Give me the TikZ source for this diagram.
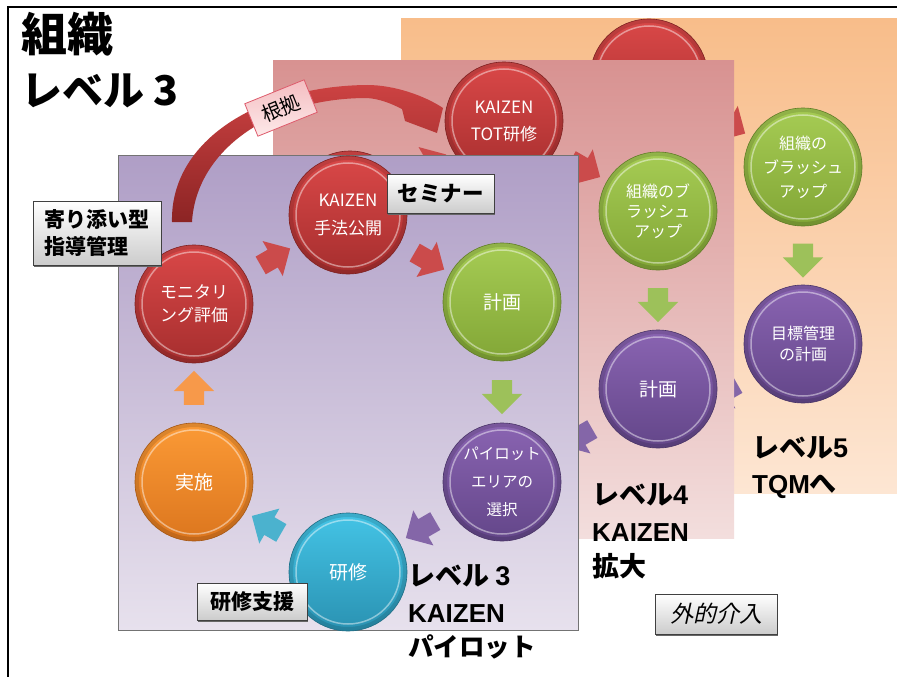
\documentclass[tikz,border=0pt]{standalone}
\usepackage{fontspec}
\setmainfont{Noto Sans CJK JP}
\newfontfamily\jpit[FakeSlant=0.22]{Noto Sans CJK JP}
\newfontfamily\lat{Liberation Sans}
\usetikzlibrary{shapes.arrows,calc,shadows}
\newcommand\myfs[2]{\fontsize{#1pt}{#2pt}\selectfont}
\definecolor{redT}{HTML}{DA4848}
\definecolor{redB}{HTML}{A62E2E}
\definecolor{grnT}{HTML}{A6CC54}
\definecolor{grnB}{HTML}{82A636}
\definecolor{purT}{HTML}{8A64B2}
\definecolor{purB}{HTML}{634689}
\definecolor{cyaT}{HTML}{44C4E6}
\definecolor{cyaB}{HTML}{2A92B2}
\definecolor{oraT}{HTML}{FB9A36}
\definecolor{oraB}{HTML}{DC761E}
\definecolor{arRed}{HTML}{CB4B4B}
\definecolor{arGrn}{HTML}{9DC15A}
\definecolor{arPur}{HTML}{8466A8}
\definecolor{arCya}{HTML}{4BB2CE}
\definecolor{arOra}{HTML}{F7994A}
\definecolor{lvFiveT}{HTML}{F8BD8A}
\definecolor{lvFiveB}{HTML}{FDE6D3}
\definecolor{lvFourT}{HTML}{D89291}
\definecolor{lvFourB}{HTML}{F3DEDD}
\definecolor{lvThreeT}{HTML}{AF9EC6}
\definecolor{lvThreeB}{HTML}{E7E1ED}
\definecolor{arcT}{HTML}{CC4242}
\definecolor{arcB}{HTML}{8C2424}
\definecolor{tagT}{HTML}{F4BDC1}
\definecolor{tagB}{HTML}{FDE9E9}
\definecolor{tagD}{HTML}{DE5B6C}
\tikzset{
  ball/.style n args={2}{circle, minimum size=118pt, inner sep=0pt,
    top color=#1, bottom color=#2, draw=#2!75!black, line width=0.6pt,
    text=white, align=center,
    path picture={
      \draw[white, opacity=.45, line width=1.5pt] (path picture bounding box.center) circle (52pt);
      \draw[black, opacity=.12, line width=4pt] (path picture bounding box.center) circle (57pt);}},
  redball/.style={ball={redT}{redB}},
  grnball/.style={ball={grnT}{grnB}},
  purball/.style={ball={purT}{purB}},
  cyaball/.style={ball={cyaT}{cyaB}},
  oraball/.style={ball={oraT}{oraB}},
  blockarrow/.style={single arrow, single arrow head extend=10pt,
    single arrow head indent=0pt, inner xsep=0pt, inner ysep=10pt,
    minimum height=34pt, minimum width=40pt, draw=none},
  labelbox/.style={draw=black!75, line width=0.9pt, top color=white,
    bottom color=black!20, inner sep=0pt, text=black,
    drop shadow={shadow xshift=1pt, shadow yshift=-1.5pt, fill=black!60, opacity=1}},
  lvtext/.style={anchor=base west, font=\bfseries\myfs{27}{27}, inner sep=0pt},
}
\begin{document}
\begin{tikzpicture}[x=1pt, y=-1pt]
\useasboundingbox (0,0) rectangle (897,677);
\fill[white] (0,0) rectangle (897,677);
% outer frame
\draw[black, line width=2.6pt] (8,690) -- (8,7) -- (905,7);

% ---------- level 5 ----------
\shade[top color=lvFiveT, bottom color=lvFiveB] (401,19) rectangle (897,493);
\node[redball] (r5) at (649,78) {};
\node[text=white, font=\myfs{17}{17}, inner sep=0pt] (r5t) at ($(r5)+(0,-11)$) {KAIZEN};
\node[grnball, font=\myfs{16}{24}] (g5) at (803,167) {組織の\\ブラッシュ\\アップ};
\node[purball, font=\myfs{16}{21}] (p5) at (803,344) {目標管理\\の計画};
\node[blockarrow, fill=arRed, rotate=-30] (a5a) at ($(r5)!0.5!(g5)$) {};
\node[blockarrow, fill=arGrn, rotate=-90] (a5b) at ($(g5)!0.5!(p5)$) {};
\node[blockarrow, fill=arPur, rotate=210] (a5c) at ($(p5)+(-76,46)$) {};
\node[lvtext] (lv5a) at (752,457) {レベル{\lat 5}};
\node[lvtext] (lv5b) at (752,493) {{\lat\myfs{26}{26}TQM}へ};

% ---------- level 4 ----------
\shade[top color=lvFourT, bottom color=lvFourB] (273,61) rectangle (734,538);
\node[redball] (r4a) at (350,210) {};
\node[redball, font=\myfs{17}{27}] (r4) at (504,121) {KAIZEN\\TOT研修};
\node[grnball, font=\myfs{16}{20}] (g4) at (658,211) {組織のブ\\ラッシュ\\アップ};
\node[purball, font=\myfs{19}{19}] (p4) at (658,389) {計画};
\node[blockarrow, fill=arRed, rotate=30] (a4a) at ($(r4a)!0.5!(r4)$) {};
\node[blockarrow, fill=arRed, rotate=-30] (a4b) at ($(r4)!0.5!(g4)$) {};
\node[blockarrow, fill=arGrn, rotate=-90] (a4c) at ($(g4)!0.5!(p4)$) {};
\node[blockarrow, fill=arPur, rotate=210] (a4d) at ($(p4)+(-76,46)$) {};
\node[lvtext] (lv4a) at (592,504) {レベル{\lat 4}};
\node[lvtext] (lv4b) at (592,541) {\lat\myfs{26}{26}KAIZEN};
\node[lvtext] (lv4c) at (592,576) {拡大};

% ---------- level 3 ----------
\path[top color=lvThreeT, bottom color=lvThreeB, draw=black!55, line width=0.8pt] (118,155) rectangle (578,630);

% curved arrow (根拠)
\shade[top color=arcT, bottom color=arcB]
  (172,222) .. controls (170,140) and (260,86) .. (367,85)
  .. controls (395,85) and (425,96) .. (443,108)
  -- (437,133) -- (405,121) -- (402,109)
  .. controls (390,103) and (380,99) .. (367,98)
  .. controls (268,98) and (196,152) .. (192,222) -- cycle;

\node[redball, font=\myfs{17}{28}] (k3) at (348,215) {KAIZEN\\手法公開};
\node[grnball, font=\myfs{19}{19}] (g3) at (502,302) {計画};
\node[purball, font=\myfs{15.5}{28}] (p3) at (502,482) {パイロット\\エリアの\\選択};
\node[cyaball, font=\myfs{19}{19}] (c3) at (348,572) {研修};
\node[oraball, font=\myfs{19}{19}] (o3) at (194,482) {実施};
\node[redball, font=\myfs{17}{23}] (m3) at (194,304) {モニタリ\\ング評価};

\node[blockarrow, fill=arRed, rotate=30] (a3a) at ($(m3)!0.5!(k3)$) {};
\node[blockarrow, fill=arRed, rotate=-30] (a3b) at ($(k3)!0.5!(g3)$) {};
\node[blockarrow, fill=arGrn, rotate=-90] (a3c) at ($(g3)!0.5!(p3)$) {};
\node[blockarrow, fill=arPur, rotate=210] (a3d) at ($(p3)!0.5!(c3)$) {};
\node[blockarrow, fill=arCya, rotate=150] (a3e) at ($(c3)!0.5!(o3)$) {};
\node[blockarrow, fill=arOra, rotate=90] (a3f) at ($(o3)!0.5!(m3)$) {};

% label boxes
\node[labelbox, minimum width=107pt, minimum height=39pt, font=\bfseries\myfs{21.5}{21.5}] (sem) at (440.5,193.5) {セミナー};
\node[labelbox, minimum width=128pt, minimum height=64pt, align=left, font=\bfseries\myfs{21}{27}] (yori) at (97,233) {寄り添い型\\指導管理};
\node[labelbox, minimum width=110pt, minimum height=37pt, font=\bfseries\myfs{21}{21}] (ken) at (252,601.5) {研修支援};
\node[labelbox, minimum width=122pt, minimum height=40pt, font=\jpit\myfs{23}{23}] (gai) at (716,614) {外的介入};
\node[draw=tagD, line width=0.8pt, top color=tagT, bottom color=tagB, rotate=22,
      minimum width=64pt, minimum height=35pt, inner sep=0pt, font=\myfs{20}{20}] (kon) at (281,108) {根拠};

% level 3 text
\node[lvtext] (lv3a) at (408,585) {レベル {\lat 3}};
\node[lvtext] (lv3b) at (408,622) {\lat\myfs{26}{26}KAIZEN};
\node[lvtext, font=\bfseries\myfs{25.5}{25.5}] (lv3c) at (408,656) {パイロット};

% title
\node[anchor=base west, inner sep=0pt, font=\bfseries\myfs{46}{46}] (t1) at (21,52) {組織};
\node[anchor=base west, inner sep=0pt, font=\bfseries\myfs{41}{41}] (t2) at (21,106) {レベル 3};
\end{tikzpicture}
\end{document}
